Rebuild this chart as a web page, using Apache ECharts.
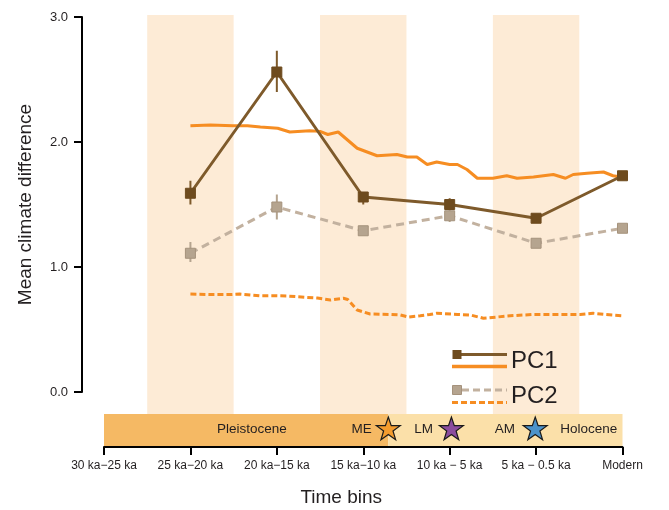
<!DOCTYPE html>
<html><head><meta charset="utf-8">
<script src="https://cdn.jsdelivr.net/npm/echarts@6/dist/echarts.min.js"></script>
<style>html,body{margin:0;padding:0;background:#fff}#c{width:669px;height:510px}</style>
</head><body><div id="c"></div>
<script>
// ---------------- data ----------------
const categories = ['30 ka\u221225 ka','25 ka\u221220 ka','20 ka\u221215 ka','15 ka\u221210 ka','10 ka \u2212 5 ka','5 ka \u2212 0.5 ka','Modern'];
const yTicks = [0, 1, 2, 3];
const pc1 = [null, 1.59, 2.56, 1.56, 1.50, 1.39, 1.73];
const pc1Low = [null, 1.50, 2.40, 1.50, 1.46, null, null];
const pc1High = [null, 1.69, 2.73, 1.59, 1.55, null, null];
const pc2 = [null, 1.11, 1.48, 1.29, 1.41, 1.19, 1.31];
const pc2Low = [null, 1.04, 1.38, 1.26, 1.36, null, null];
const pc2High = [null, 1.20, 1.58, 1.32, 1.46, null, null];
// reference curves (x in time-bin index units)
const pc1RefX = [1.00,1.23,1.49,1.66,1.81,2.01,2.15,2.38,2.50,2.59,2.71,2.93,3.16,3.39,3.51,3.62,3.74,3.85,4.00,4.09,4.20,4.32,4.50,4.66,4.78,4.97,5.20,5.34,5.43,5.59,5.78,5.89,5.98];
const pc1RefY = [2.13,2.136,2.13,2.13,2.12,2.11,2.08,2.09,2.085,2.06,2.08,1.95,1.89,1.90,1.88,1.88,1.82,1.84,1.82,1.82,1.78,1.71,1.71,1.73,1.71,1.72,1.74,1.71,1.74,1.75,1.76,1.73,1.72];
const pc2RefX = [1.00,1.23,1.46,1.57,1.81,2.00,2.12,2.35,2.47,2.62,2.77,2.82,2.93,3.08,3.31,3.43,3.52,3.66,3.77,3.85,4.09,4.24,4.39,4.55,4.70,4.97,5.28,5.51,5.66,5.80,6.00];
const pc2RefY = [0.784,0.78,0.78,0.784,0.77,0.77,0.768,0.757,0.752,0.736,0.75,0.74,0.656,0.624,0.62,0.616,0.60,0.61,0.62,0.63,0.62,0.616,0.59,0.60,0.61,0.62,0.62,0.62,0.63,0.62,0.61];
const shadedBins = [1, 3, 5];
const eraNames = ['Pleistocene', 'Holocene'];
const eraFrom = [0, 3.29];
const eraTo = [3.29, 6];
const eventNames = ['ME', 'LM', 'AM'];
const eventX = [3.29, 4.02, 4.99];
const labelNames = ['Pleistocene', 'ME', 'LM', 'AM', 'Holocene'];
const labelX = [1.71, 2.98, 3.70, 4.64, 5.61];

// ---------------- style ----------------
const FONT = "'Liberation Sans', Arial, sans-serif";
const TXT = '#231F20';
const BROWN = '#7E5A2B', BROWN_D = '#6E4B1E';
const TAN = '#C2B19F', TAN_M = '#B5A48F', TAN_D = '#A5927C';
const ORANGE = '#F68D22';
const BAND = '#FDEBD6';
const ERA_COL = ['#F5B964', '#FBE0A9'];
const STAR_COL = ['#F49C2E', '#8B4C9E', '#4C93CB'];
const TL_TOP = 22, TL_H = 32;
const STAR = 'M50,2 L61.5,36 L97,36 L68.5,57 L79,92 L50,71 L21,92 L31.5,57 L3,36 L38.5,36 Z';

const chart = echarts.init(document.getElementById('c'), null, {renderer: 'canvas'});

function errSeries(low, high, color) {
  const d = [];
  low.forEach((l, i) => { if (l != null) d.push([i, l, high[i]]); });
  return {
    type: 'custom', xAxisIndex: 0, yAxisIndex: 0, z: 3, silent: true,
    data: d,
    renderItem: (p, api) => {
      const a = api.coord([api.value(0), api.value(1)]);
      const b = api.coord([api.value(0), api.value(2)]);
      return {type: 'line', shape: {x1: a[0], y1: a[1], x2: b[0], y2: b[1]}, style: {stroke: color, lineWidth: 2}};
    }
  };
}

const LZ = 100;
const option = {
  animation: false,
  backgroundColor: '#fff',
  grid: {left: 104, right: 46.5, top: 17, bottom: 118, containLabel: false, outerBoundsMode: 'none'},
  xAxis: [{
    type: 'category', data: categories, boundaryGap: false, offset: 55,
    axisLine: {onZero: false, lineStyle: {color: '#000', width: 2}},
    axisTick: {show: true, length: 8, lineStyle: {color: '#000', width: 2}},
    axisLabel: {interval: 0, margin: 13, fontSize: 12, color: TXT, fontFamily: FONT},
    splitLine: {show: false},
    name: 'Time bins', nameLocation: 'middle', nameGap: 41,
    nameTextStyle: {fontSize: 19, color: TXT, fontFamily: FONT, padding: [0, 44, 0, 0]}
  }, {
    type: 'value', min: 0, max: 6, show: false
  }],
  yAxis: {
    type: 'value', min: yTicks[0], max: yTicks[yTicks.length - 1], interval: 1, offset: 22,
    axisLine: {show: true, onZero: false, lineStyle: {color: '#000', width: 2}},
    axisTick: {show: true, length: 8, lineStyle: {color: '#000', width: 2}},
    axisLabel: {margin: 14, fontSize: 13, color: TXT, fontFamily: FONT, formatter: v => v.toFixed(1)},
    splitLine: {show: false},
    name: 'Mean climate difference', nameLocation: 'middle', nameGap: 47,
    nameTextStyle: {fontSize: 19, color: TXT, fontFamily: FONT}
  },
  series: [
    { // shaded time bins
      type: 'custom', xAxisIndex: 1, z: 0, silent: true, clip: false,
      data: shadedBins.map(b => [b]),
      renderItem: (p, api) => {
        const b = api.value(0);
        const a = api.coord([b - 0.5, yTicks[yTicks.length - 1]]);
        const c = api.coord([b + 0.5, 0]);
        return {type: 'rect', shape: {x: a[0], y: a[1] - 2, width: c[0] - a[0], height: c[1] - a[1] + 2 + TL_TOP}, style: {fill: BAND}};
      }
    },
    { // epoch bar
      type: 'custom', xAxisIndex: 1, z: 1, silent: true, clip: false,
      data: eraNames.map((n, i) => [eraFrom[i], eraTo[i]]),
      renderItem: (p, api) => {
        const a = api.coord([api.value(0), 0]);
        const b = api.coord([api.value(1), 0]);
        return {type: 'rect', shape: {x: a[0], y: a[1] + TL_TOP, width: b[0] - a[0], height: TL_H}, style: {fill: ERA_COL[p.dataIndex]}};
      }
    },
    { // epoch / event labels
      type: 'custom', xAxisIndex: 1, z: 2, silent: true, clip: false,
      data: labelNames.map((n, i) => [labelX[i]]),
      renderItem: (p, api) => {
        const a = api.coord([api.value(0), 0]);
        return {type: 'text', x: a[0], y: a[1] + TL_TOP + TL_H / 2 - 1,
          style: {text: labelNames[p.dataIndex], fill: TXT, font: '13.5px ' + FONT, align: 'center', verticalAlign: 'middle'}};
      }
    },
    { // event stars
      type: 'custom', xAxisIndex: 1, z: 6, silent: true, clip: false,
      data: eventNames.map((n, i) => [eventX[i]]),
      renderItem: (p, api) => {
        const a = api.coord([api.value(0), 0]);
        const s = 24;
        return {type: 'path', shape: {pathData: STAR, x: a[0] - s / 2, y: a[1] + TL_TOP + TL_H / 2 - s / 2 - 1, width: s, height: s * 0.95},
          style: {fill: STAR_COL[p.dataIndex], stroke: '#1a1a1a', lineWidth: 1.2}};
      }
    },
    {
      name: 'PC1 ref', type: 'line', xAxisIndex: 1, z: 2, silent: true, symbol: 'none',
      data: pc1RefX.map((x, i) => [x, pc1RefY[i]]),
      lineStyle: {color: ORANGE, width: 3}
    },
    {
      name: 'PC2 ref', type: 'line', xAxisIndex: 1, z: 2, silent: true, symbol: 'none',
      data: pc2RefX.map((x, i) => [x, pc2RefY[i]]),
      lineStyle: {color: ORANGE, width: 3, type: [6, 3]}
    },
    errSeries(pc2Low, pc2High, TAN_M),
    {
      name: 'PC2', type: 'line', xAxisIndex: 0, z: 4, silent: true,
      data: pc2, symbol: 'rect', symbolSize: 10, showAllSymbol: true,
      lineStyle: {color: TAN, width: 3, type: [8, 5]},
      itemStyle: {color: TAN_M, borderColor: TAN_D, borderWidth: 1}
    },
    errSeries(pc1Low, pc1High, BROWN),
    {
      name: 'PC1', type: 'line', xAxisIndex: 0, z: 5, silent: true,
      data: pc1, symbol: 'rect', symbolSize: 10, showAllSymbol: true,
      lineStyle: {color: BROWN, width: 3},
      itemStyle: {color: BROWN_D, borderColor: BROWN_D, borderWidth: 1}
    }
  ],
  graphic: [
    {type: 'line', z: LZ, shape: {x1: 457, y1: 354.5, x2: 507, y2: 354.5}, style: {stroke: BROWN, lineWidth: 3}},
    {type: 'rect', z: LZ, shape: {x: 452.5, y: 350, width: 9, height: 9}, style: {fill: BROWN_D}},
    {type: 'line', z: LZ, shape: {x1: 452, y1: 366.5, x2: 507, y2: 366.5}, style: {stroke: ORANGE, lineWidth: 3.5}},
    {type: 'text', z: LZ, x: 511, y: 361, style: {text: 'PC1', fill: TXT, font: '24px ' + FONT, verticalAlign: 'middle'}},
    {type: 'line', z: LZ, shape: {x1: 462, y1: 390, x2: 507, y2: 390}, style: {stroke: TAN, lineWidth: 3, lineDash: [7, 4]}},
    {type: 'rect', z: LZ, shape: {x: 452.5, y: 385.5, width: 9, height: 9}, style: {fill: TAN_M, stroke: TAN_D, lineWidth: 1}},
    {type: 'line', z: LZ, shape: {x1: 452, y1: 402.5, x2: 507, y2: 402.5}, style: {stroke: ORANGE, lineWidth: 3, lineDash: [6, 3]}},
    {type: 'text', z: LZ, x: 511, y: 396, style: {text: 'PC2', fill: TXT, font: '24px ' + FONT, verticalAlign: 'middle'}}
  ]
};
chart.setOption(option);
</script></body></html>
